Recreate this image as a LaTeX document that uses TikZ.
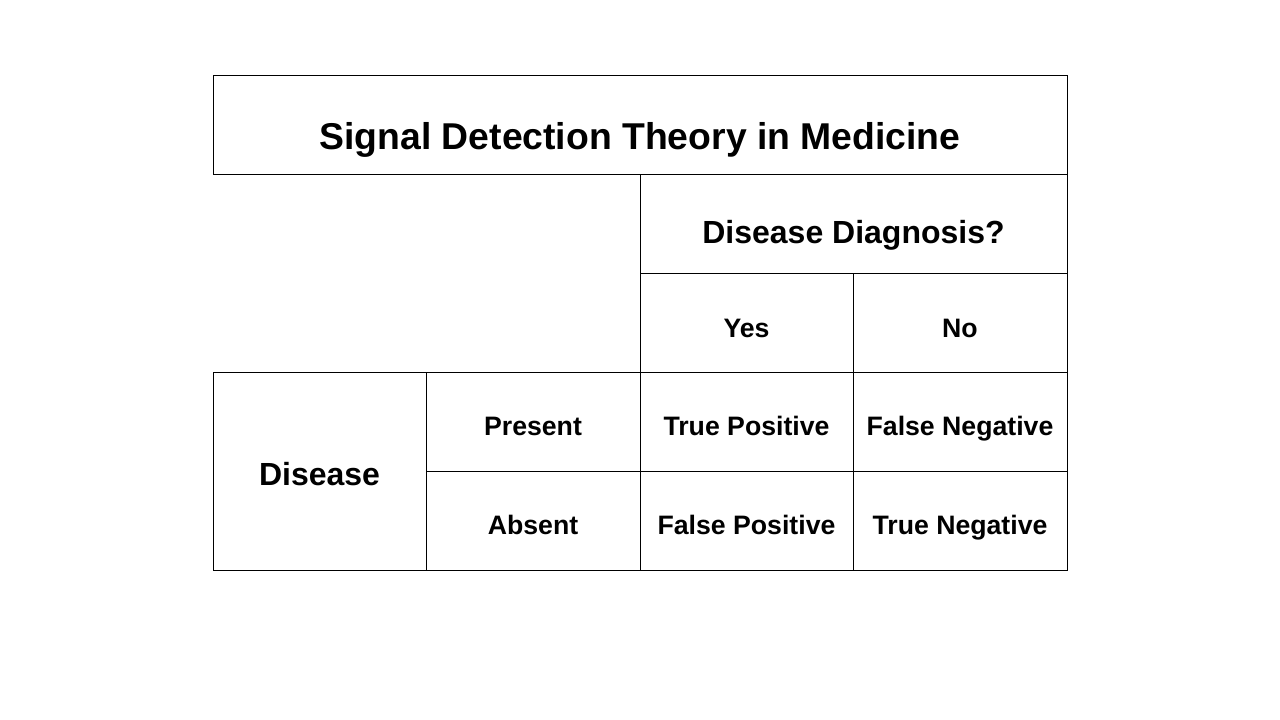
\documentclass[tikz,border=0pt]{standalone}
\usepackage{fontspec}
\setmainfont{Liberation Sans}
\begin{document}
\begin{tikzpicture}[x=0.75pt,y=-0.75pt,
  grid/.style={line width=0.75pt,draw=black},
  cellA/.style={anchor=base,font=\bfseries\fontsize{20}{24}\selectfont,inner sep=0pt},
  cellB/.style={anchor=base,font=\bfseries\fontsize{24}{29}\selectfont,inner sep=0pt},
  titletext/.style={anchor=base,font=\bfseries\fontsize{28}{34}\selectfont,inner sep=0pt}]
\useasboundingbox (0,0) rectangle (1280,720);
% corner coordinates
\coordinate (tl) at (213,76);
\coordinate (tr) at (1067,76);
\coordinate (l1) at (213,175);
\coordinate (r1) at (1067,175);
\coordinate (m1) at (640,175);
\coordinate (m2) at (640,273);
\coordinate (r2) at (1067,273);
\coordinate (n2) at (853,273);
\coordinate (l3) at (213,372);
\coordinate (r3) at (1067,372);
\coordinate (k3) at (426,372);
\coordinate (k4) at (426,471);
\coordinate (r4) at (1067,471);
\coordinate (l5) at (213,570);
\coordinate (r5) at (1067,570);
\coordinate (k5) at (426,570);
\coordinate (m5) at (640,570);
\coordinate (n5) at (853,570);
% lines
\draw[grid] (l1) -- (tl) -- (tr) -- (r5) -- (l5) -- (l3) -- (r3);
\draw[grid] (l1) -- (r1);
\draw[grid] (m1) -- (m5);
\draw[grid] (m2) -- (r2);
\draw[grid] (n2) -- (n5);
\draw[grid] (k3) -- (k5);
\draw[grid] (k4) -- (r4);
% texts
\node[titletext] (title) at (640,150) {Signal Detection Theory in Medicine};
\node[cellB] (diag) at (853.5,243.5) {Disease Diagnosis?};
\node[cellA] (yes) at (746.5,337) {Yes};
\node[cellA] (no) at (960,337) {No};
\node[cellB] (disease) at (319.5,485) {Disease};
\node[cellA] (present) at (533,435.7) {Present};
\node[cellA] (absent) at (533,534.3) {Absent};
\node[cellA] (tp) at (746.5,435.7) {True Positive};
\node[cellA] (fn) at (960,435.7) {False Negative};
\node[cellA] (fp) at (746.5,534.3) {False Positive};
\node[cellA] (tn) at (960,534.3) {True Negative};
\end{tikzpicture}
\end{document}
